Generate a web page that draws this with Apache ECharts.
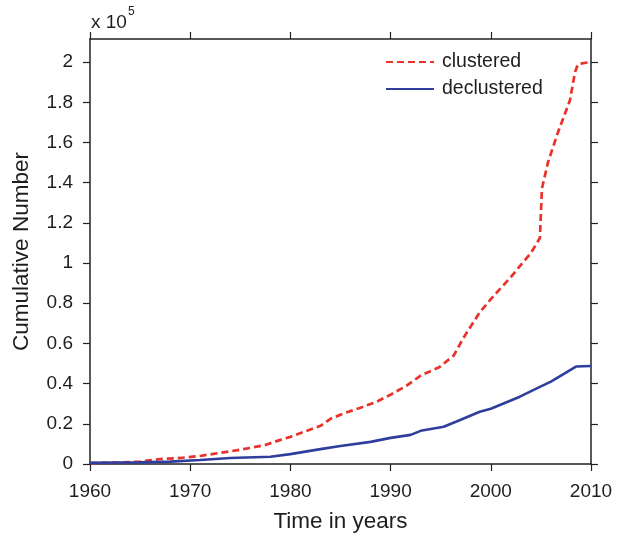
<!DOCTYPE html>
<html>
<head>
<meta charset="utf-8">
<script src="https://cdn.jsdelivr.net/npm/echarts@6/dist/echarts.min.js"></script>
<style>html,body{margin:0;padding:0;background:#fff}#c{width:620px;height:538px}</style>
</head>
<body>
<div id="c"></div>
<script>
// values in units of 1e5 events
const clusteredYears = [1960,1963,1965,1967,1969,1971,1972,1974,1976,1977.5,1979,1980,1982,1983,1984,1985.5,1987,1988.6,1990,1991.6,1993,1994.9,1996.3,1997.3,1998.9,2000,2000.9,2002,2002.9,2004,2004.9,2005.1,2005.7,2006.7,2007.9,2008.4,2008.7,2009.9,2010];
const clusteredValues = [0.005,0.007,0.012,0.025,0.03,0.04,0.048,0.063,0.08,0.095,0.12,0.135,0.172,0.19,0.225,0.255,0.28,0.31,0.345,0.39,0.44,0.483,0.54,0.63,0.755,0.82,0.87,0.93,0.985,1.05,1.125,1.37,1.5,1.65,1.81,1.95,1.99,2.0,2.0];
const declusteredYears = [1960,1965,1968,1971,1974,1978,1980,1983,1985,1988,1990,1992,1993,1995.3,1997,1998.9,2000,2002.9,2004.9,2006,2007,2008.5,2010];
const declusteredValues = [0.006,0.008,0.012,0.02,0.03,0.036,0.049,0.074,0.09,0.11,0.13,0.145,0.165,0.185,0.22,0.26,0.275,0.335,0.384,0.41,0.44,0.485,0.488];
const xTicks = [1960,1970,1980,1990,2000,2010];
const yTicks = [0,0.2,0.4,0.6,0.8,1,1.2,1.4,1.6,1.8,2];
const seriesNames = ['clustered','declustered'];

const chart = echarts.init(document.getElementById('c'), null, {renderer:'canvas'});
const FONT = '"Liberation Sans", Arial, sans-serif';
const TXT = '#1e1e1e';
const axisLine = {show:true, onZero:false, lineStyle:{color:'#222', width:1.5}};
const tick = {show:true, inside:false, length:7, lineStyle:{color:'#222', width:1.2}};
function zip(a,b){return a.map((v,i)=>[v,b[i]]);}
chart.setOption({
  animation:false,
  backgroundColor:'#fff',
  grid:{left:90, right:29, top:39, bottom:72, containLabel:false},
  legend:{
    data:seriesNames, orient:'vertical', left:385, top:52, itemWidth:48, itemHeight:14, itemGap:7, padding:0,
    itemStyle:{opacity:0},
    textStyle:{fontFamily:FONT, fontSize:19.5, lineHeight:20, color:TXT, padding:[0,0,0,3]}
  },
  graphic:[
    {type:'text', left:91, top:13, style:{text:'x 10', font:'19px "Liberation Sans", Arial, sans-serif', fill:TXT}},
    {type:'text', left:128, top:6, style:{text:'5', font:'12px "Liberation Sans", Arial, sans-serif', fill:TXT}}
  ],
  xAxis:[{
    type:'value', min:1960, max:2010, interval:10,
    name:'Time in years', nameLocation:'middle', nameGap:46,
    nameTextStyle:{fontFamily:FONT, fontSize:22.5, color:TXT},
    axisLine:axisLine, axisTick:Object.assign({customValues:xTicks},tick), splitLine:{show:false},
    axisLabel:{customValues:xTicks, fontFamily:FONT, fontSize:19, color:TXT, margin:18, formatter:v=>String(v)}
  },{
    type:'value', position:'top', min:1960, max:2010, interval:10,
    axisLine:axisLine, axisTick:Object.assign({customValues:xTicks},tick), axisLabel:{show:false}, splitLine:{show:false}
  }],
  yAxis:[{
    type:'value', min:0, max:2.115,
    name:'Cumulative Number', nameLocation:'middle', nameGap:57, nameRotate:90,
    nameTextStyle:{fontFamily:FONT, fontSize:22.5, color:TXT},
    axisLine:axisLine, axisTick:Object.assign({customValues:yTicks},tick), splitLine:{show:false},
    axisLabel:{customValues:yTicks, fontFamily:FONT, fontSize:19, color:TXT, margin:17, formatter:v=>String(+v.toFixed(1))}
  },{
    type:'value', position:'right', min:0, max:2.115,
    axisLine:axisLine, axisTick:Object.assign({customValues:yTicks},tick), axisLabel:{show:false}, splitLine:{show:false}
  }],
  series:[{
    name:seriesNames[0], type:'line', data:zip(clusteredYears, clusteredValues), showSymbol:false, symbol:'none',
    lineStyle:{color:'#e8322b', width:2.7, type:[7,4]}, itemStyle:{color:'#e8322b'}
  },{
    name:seriesNames[1], type:'line', data:zip(declusteredYears, declusteredValues), showSymbol:false, symbol:'none',
    lineStyle:{color:'#2f3e9c', width:2.6}, itemStyle:{color:'#2f3e9c'}
  }]
});
</script>
</body>
</html>
